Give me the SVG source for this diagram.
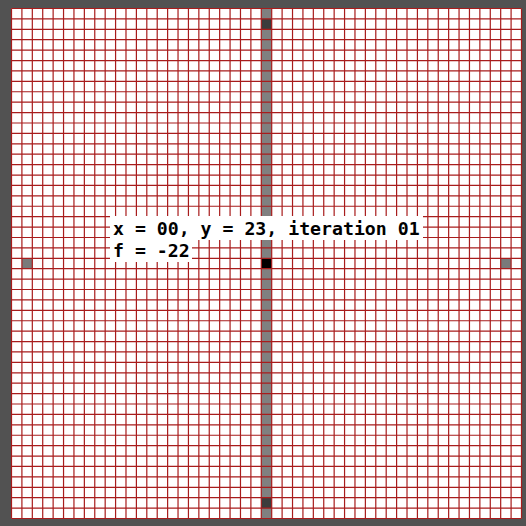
<svg xmlns="http://www.w3.org/2000/svg" width="526" height="526" viewBox="0 0 526 526">
<style>
.grid{fill:none;stroke:#a81c1c;stroke-width:1.2;vector-effect:non-scaling-stroke}
.lbl{font-family:"DejaVu Sans Mono","Liberation Mono",monospace;font-weight:bold;font-size:18.2px;fill:#000}
.bg{fill:#fff}
</style>
<rect id="frame" x="0" y="0" width="526" height="526" fill="#525252"/>
<g id="board" transform="translate(11.5,8.5) scale(10.408163)">
<rect x="0" y="0" width="49" height="49" fill="#fff"/>
<rect id="column" x="24" y="0" width="1" height="49" fill="#808080"/>
<rect id="cell-left" x="1" y="24" width="1" height="1" fill="#7a7a7a"/>
<rect id="cell-right" x="47" y="24" width="1" height="1" fill="#7a7a7a"/>
<rect id="cell-top" x="24" y="1" width="1" height="1" fill="#3c3c3c"/>
<rect id="cell-bottom" x="24" y="47" width="1" height="1" fill="#3c3c3c"/>
<rect id="cell-center" x="24" y="24" width="1" height="1" fill="#000"/>
<path class="grid" d="M0 0V49M1 0V49M2 0V49M3 0V49M4 0V49M5 0V49M6 0V49M7 0V49M8 0V49M9 0V49M10 0V49M11 0V49M12 0V49M13 0V49M14 0V49M15 0V49M16 0V49M17 0V49M18 0V49M19 0V49M20 0V49M21 0V49M22 0V49M23 0V49M24 0V49M25 0V49M26 0V49M27 0V49M28 0V49M29 0V49M30 0V49M31 0V49M32 0V49M33 0V49M34 0V49M35 0V49M36 0V49M37 0V49M38 0V49M39 0V49M40 0V49M41 0V49M42 0V49M43 0V49M44 0V49M45 0V49M46 0V49M47 0V49M48 0V49M49 0V49"/>
<path class="grid" d="M0 0H49M0 1H49M0 2H49M0 3H49M0 4H49M0 5H49M0 6H49M0 7H49M0 8H49M0 9H49M0 10H49M0 11H49M0 12H49M0 13H49M0 14H49M0 15H49M0 16H49M0 17H49M0 18H49M0 19H49M0 20H49M0 21H49M0 22H49M0 23H49M0 24H49M0 25H49M0 26H49M0 27H49M0 28H49M0 29H49M0 30H49M0 31H49M0 32H49M0 33H49M0 34H49M0 35H49M0 36H49M0 37H49M0 38H49M0 39H49M0 40H49M0 41H49M0 42H49M0 43H49M0 44H49M0 45H49M0 46H49M0 47H49M0 48H49M0 49H49"/>
</g>
<g id="label">
<rect class="bg" x="110" y="216" width="313" height="24"/>
<rect class="bg" x="110" y="240" width="82" height="22"/>
<text class="lbl" x="113" y="234.5">x = 00, y = 23, iteration 01</text>
<text class="lbl" x="113" y="256.5">f = -22</text>
</g>
</svg>
